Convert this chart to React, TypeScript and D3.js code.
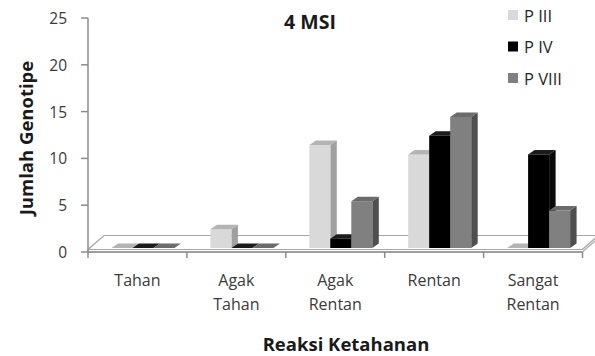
import React from "react";
import * as d3 from "d3";

// Jumlah genotipe per kelas reaksi ketahanan, 4 MSI
const categories: string[][] = [
  ["Tahan"],
  ["Agak", "Tahan"],
  ["Agak", "Rentan"],
  ["Rentan"],
  ["Sangat", "Rentan"],
];
const seriesNames = ["P III", "P IV", "P VIII"];
const pIII = [0, 2, 11, 10, 0];
const pIV = [0, 0, 1, 12, 10];
const pVIII = [0, 0, 5, 14, 4];
const yTicks = [0, 5, 10, 15, 20, 25];

const seriesValues = [pIII, pIV, pVIII];

// front / top / side shades for each series
const shades = [
  { front: "#d9d9d9", top: "#b4b4b4", side: "#a0a0a0" },
  { front: "#000000", top: "#1c1c1c", side: "#0a0a0a" },
  { front: "#808080", top: "#6b6b6b", side: "#4f4f4f" },
];

const W = 595;
const H = 356;
const FONT = "'Open Sans', 'DejaVu Sans', sans-serif";

export default function App() {
  const axisX = 88;
  const rightX = 582.5;
  const frontY = 252; // front edge of the floor / value axis zero
  const depthX = 16;
  const depthY = 14;

  // category bands along the front edge of the floor
  const xCat = d3
    .scaleBand<number>()
    .domain(categories.map((_, i) => i))
    .range([axisX, rightX])
    .paddingInner(0)
    .paddingOuter(0);

  // bars sit slightly behind the front edge
  const groupOffset = 23.5;
  const barW = 21;
  const xSer = d3
    .scaleBand<number>()
    .domain(seriesNames.map((_, i) => i))
    .range([0, barW * seriesNames.length])
    .padding(0);

  const barDx = 6.5;
  const barDy = 4.5;
  const baseY = 248;

  const yAxis = d3.scaleLinear().domain([0, 25]).range([frontY, 18]);
  const yBar = d3.scaleLinear().domain([0, 25]).range([baseY, baseY - (frontY - 18)]);

  const bars: React.ReactNode[] = [];
  categories.forEach((_, ci) => {
    seriesNames.forEach((_, si) => {
      const v = seriesValues[si][ci];
      const x0 = (xCat(ci) as number) + groupOffset + (xSer(si) as number);
      const x1 = x0 + xSer.bandwidth();
      const yT = yBar(v);
      const c = shades[si];
      const topPts = [
        [x0, yT],
        [x0 + barDx, yT - barDy],
        [x1 + barDx, yT - barDy],
        [x1, yT],
      ];
      const sidePts = [
        [x1, yT],
        [x1 + barDx, yT - barDy],
        [x1 + barDx, baseY - barDy],
        [x1, baseY],
      ];
      bars.push(
        <g key={`b-${ci}-${si}`}>
          {v > 0 && (
            <polygon points={sidePts.map((p) => p.join(",")).join(" ")} fill={c.side} />
          )}
          {v > 0 && <rect x={x0} y={yT} width={x1 - x0} height={baseY - yT} fill={c.front} />}
          <polygon points={topPts.map((p) => p.join(",")).join(" ")} fill={c.top} />
        </g>
      );
    });
  });

  const floorTop = [
    [axisX, frontY - 2.5],
    [rightX, frontY - 2.5],
    [rightX + depthX, frontY - 2.5 - depthY],
    [axisX + depthX, frontY - 2.5 - depthY],
  ];

  const axisColor = "#8c8c8c";
  const tickText = "#3a3a3a";

  return (
    <svg
      width={W}
      height={H}
      viewBox={`0 0 ${W} ${H}`}
      style={{ position: "absolute", left: 0, top: 0, background: "#ffffff" }}
      fontFamily={FONT}
    >
      <rect x={0} y={0} width={W} height={H} fill="#ffffff" />

      {/* floor slab */}
      <polygon
        points={floorTop.map((p) => p.join(",")).join(" ")}
        fill="#ffffff"
        stroke="#a6a6a6"
        strokeWidth={1.2}
      />
      <polygon
        points={[
          [axisX, frontY - 2.5],
          [rightX, frontY - 2.5],
          [rightX + depthX, frontY - 2.5 - depthY],
          [rightX + depthX, frontY - depthY],
          [rightX, frontY],
          [axisX, frontY],
        ]
          .map((p) => p.join(","))
          .join(" ")}
        fill="#ffffff"
        stroke="#a6a6a6"
        strokeWidth={1.2}
      />

      {bars}

      {/* value axis */}
      <line x1={axisX} x2={axisX} y1={yAxis(25)} y2={frontY} stroke={axisColor} strokeWidth={1.5} />
      {yTicks.map((t) => (
        <g key={`yt-${t}`}>
          <line x1={axisX - 7} x2={axisX} y1={yAxis(t)} y2={yAxis(t)} stroke={axisColor} strokeWidth={1.5} />
          <text
            x={67}
            y={yAxis(t)}
            textAnchor="end"
            dominantBaseline="central"
            fontSize={15.5}
            fill={tickText}
          >
            {t}
          </text>
        </g>
      ))}

      {/* category axis */}
      <line x1={axisX} x2={rightX} y1={frontY} y2={frontY} stroke={axisColor} strokeWidth={1.5} />
      {d3.range(categories.length + 1).map((k) => {
        const x = k < categories.length ? (xCat(k) as number) : rightX;
        return (
          <line key={`xt-${k}`} x1={x} x2={x} y1={frontY} y2={frontY + 6} stroke={axisColor} strokeWidth={1.5} />
        );
      })}
      {categories.map((lines, ci) => (
        <text
          key={`xl-${ci}`}
          x={(xCat(ci) as number) + xCat.bandwidth() / 2}
          y={280}
          textAnchor="middle"
          dominantBaseline="central"
          fontSize={16}
          fill={tickText}
        >
          {lines.map((ln, li) => (
            <tspan key={li} x={(xCat(ci) as number) + xCat.bandwidth() / 2} dy={li === 0 ? 0 : 24}>
              {ln}
            </tspan>
          ))}
        </text>
      ))}

      {/* titles */}
      <text x={310} y={21} textAnchor="middle" dominantBaseline="central" fontSize={19.5} fontWeight="bold" fill="#1a1a1a">
        4 MSI
      </text>
      <text x={346} y={343} textAnchor="middle" dominantBaseline="central" fontSize={18.5} fontWeight="bold" fill="#1a1a1a">
        Reaksi Ketahanan
      </text>
      <text
        transform={`translate(25,138) rotate(-90)`}
        textAnchor="middle"
        dominantBaseline="central"
        fontSize={18.5}
        fontWeight="bold"
        fill="#1a1a1a"
      >
        Jumlah Genotipe
      </text>

      {/* legend */}
      {seriesNames.map((name, si) => {
        const cy = 15 + si * 31.5;
        return (
          <g key={`lg-${si}`}>
            <rect x={508} y={cy - 5} width={10} height={10} fill={shades[si].front} />
            <text x={524} y={cy} dominantBaseline="central" fontSize={16.5} fill="#262626">
              {name}
            </text>
          </g>
        );
      })}
    </svg>
  );
}
